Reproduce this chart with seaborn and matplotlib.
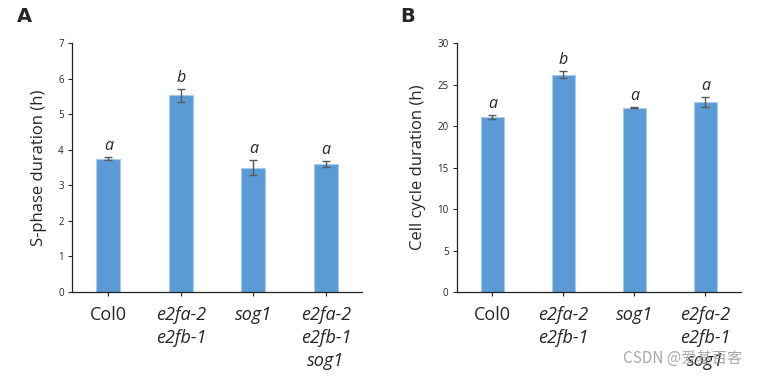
import pandas as pd
import matplotlib.pyplot as plt
import seaborn as sns

genotypes = ['Col0', 'e2fa-2\ne2fb-1', 'sog1', 'e2fa-2\ne2fb-1\nsog1']
italic = [False, True, True, True]

# S-phase duration (h)
s_phase = [3.75, 5.53, 3.50, 3.61]
s_phase_err = [0.05, 0.19, 0.21, 0.08]
s_phase_letters = ['a', 'b', 'a', 'a']

# Cell cycle duration (h)
cell_cycle = [21.1, 26.2, 22.2, 22.9]
cell_cycle_err = [0.25, 0.45, 0.05, 0.55]
cell_cycle_letters = ['a', 'b', 'a', 'a']

sns.set_style('ticks')
plt.rcParams['font.family'] = ['Open Sans', 'DejaVu Sans']

bar_color = '#5B9BD5'
fig = plt.figure(figsize=(7.59, 3.77), dpi=100)
ax_a = fig.add_axes([0.095, 0.2255, 0.382, 0.66])
ax_b = fig.add_axes([0.602, 0.2255, 0.374, 0.66])


def draw_panel(ax, values, errs, letters, ymax, ystep, ylabel, letter_pad):
    df = pd.DataFrame({'genotype': genotypes, 'value': values})
    sns.barplot(data=df, x='genotype', y='value', color=bar_color, width=0.33,
                edgecolor='#A9CBEA', linewidth=0.8, saturation=1, errorbar=None, ax=ax)
    ax.errorbar(range(len(values)), values, yerr=errs, fmt='none',
                ecolor='#595959', elinewidth=1.0, capsize=3, capthick=1.0)
    for i, (v, e, t) in enumerate(zip(values, errs, letters)):
        ax.text(i, v + e + letter_pad, t, ha='center', va='bottom',
                fontsize=11.5, style='italic')
    ax.set_xlim(-0.5, 3.5)
    ax.set_ylim(0, ymax)
    ax.set_yticks(range(0, ymax + 1, ystep))
    ax.tick_params(axis='y', labelsize=7, length=3, width=0.8, pad=3)
    ax.tick_params(axis='x', labelsize=13, length=3, width=0.8, pad=7)
    ax.set_xlabel('')
    ax.set_ylabel(ylabel, fontsize=12, labelpad=8)
    ax.set_xticks(range(len(genotypes)))
    ax.set_xticklabels(genotypes, linespacing=1.35, va='top')
    for lab, it in zip(ax.get_xticklabels(), italic):
        if it:
            lab.set_fontstyle('italic')
    for side in ['top', 'right']:
        ax.spines[side].set_visible(False)
    for side in ['left', 'bottom']:
        ax.spines[side].set_linewidth(0.9)
        ax.spines[side].set_color('#222222')


draw_panel(ax_a, s_phase, s_phase_err, s_phase_letters, 7, 1,
           'S-phase duration (h)', 0.08)
draw_panel(ax_b, cell_cycle, cell_cycle_err, cell_cycle_letters, 30, 5,
           'Cell cycle duration (h)', 0.4)

fig.text(0.022, 0.955, 'A', fontsize=14, fontweight='bold', va='center',
         family='DejaVu Sans')
fig.text(0.527, 0.955, 'B', fontsize=14, fontweight='bold', va='center',
         family='DejaVu Sans')
fig.text(0.978, 0.05, 'CSDN @爱基百客', fontsize=11, color='#9A9A9A',
         ha='right', va='center', alpha=0.85,
         family=['Noto Sans CJK SC', 'DejaVu Sans'])

fig.savefig('out.png', dpi=100)
